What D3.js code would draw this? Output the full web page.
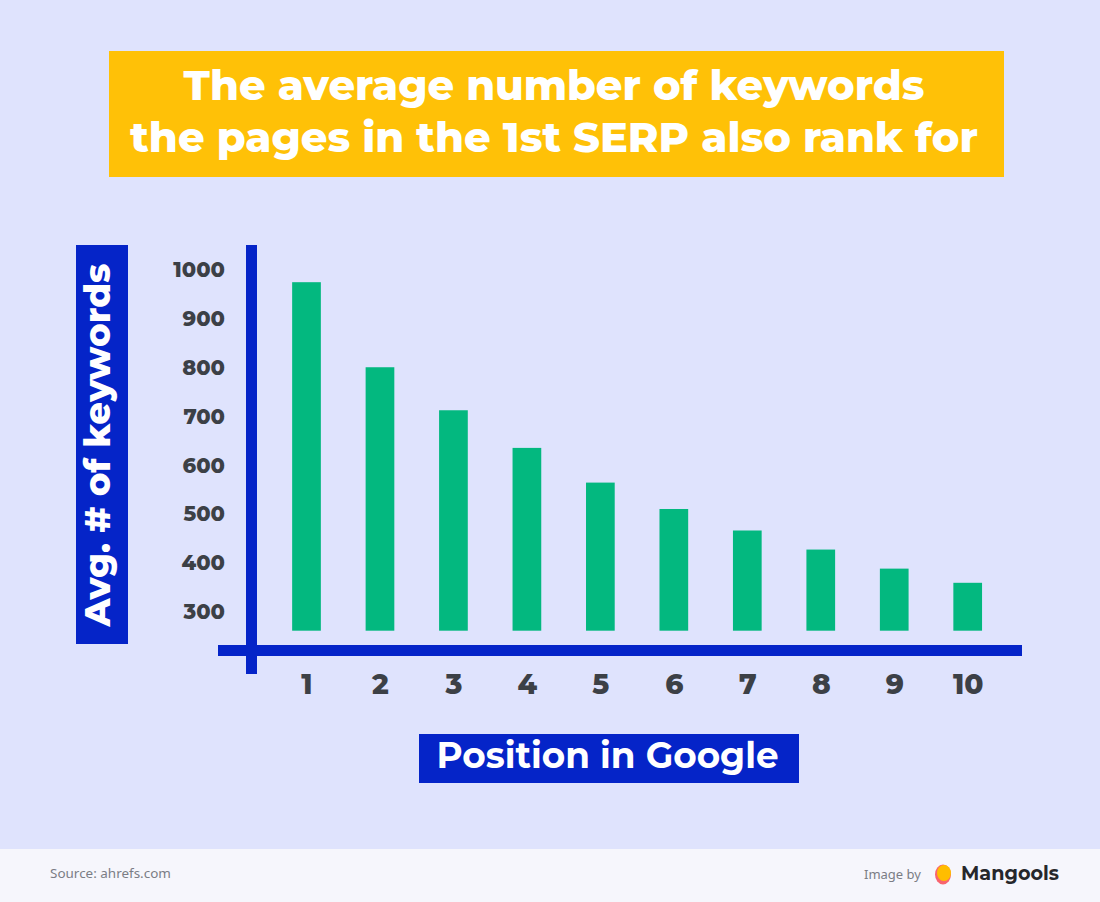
<!DOCTYPE html>
<html>
<head>
<meta charset="utf-8">
<script src="https://cdn.jsdelivr.net/npm/d3@7"></script>
<style>
  html, body { margin: 0; padding: 0; background: #dfe3fd; }
  svg { display: block; }
</style>
</head>
<body>
<svg id="chart" width="1100" height="902"></svg>
<script>
// ---- data ----
const positions = ["1", "2", "3", "4", "5", "6", "7", "8", "9", "10"];
const avgKeywords = [973, 799, 711, 634, 563, 509, 465, 426, 387, 358];
const yTicks = [300, 400, 500, 600, 700, 800, 900, 1000];
const titleLines = ["The average number of keywords", "the pages in the 1st SERP also rank for"];
const yTitle = "Avg. # of keywords";
const xTitle = "Position in Google";
const sourceText = "Source: ahrefs.com";

// ---- style ----
const BG = "#dfe3fd", FOOT = "#f6f6fc", YELLOW = "#ffc107", BLUE = "#0524c8",
      GREEN = "#03b87f", GRAY = "#3c4046";
const HEAVY = "Montserrat, Inter, 'Open Sans', sans-serif";

const svg = d3.select("#chart");
svg.append("rect").attr("width", 1100).attr("height", 902).attr("fill", BG);
svg.append("rect").attr("y", 849).attr("width", 1100).attr("height", 53).attr("fill", FOOT);

// fit text to a target width by adjusting font-size
function fit(sel, target) {
  const n = sel.node();
  const w = n.getComputedTextLength();
  const fs = parseFloat(sel.attr("font-size"));
  sel.attr("font-size", fs * target / w);
}

// title
svg.append("rect").attr("x", 109).attr("y", 51).attr("width", 895).attr("height", 126).attr("fill", YELLOW);
const tl = [ {y: 100, w: 741}, {y: 152, w: 848} ];
titleLines.forEach((t, i) => {
  const s = svg.append("text").text(t)
    .attr("x", 554).attr("y", tl[i].y).attr("text-anchor", "middle")
    .attr("font-family", HEAVY).attr("font-weight", 800).attr("font-size", 40)
    .attr("fill", "#fff");
  fit(s, tl[i].w);
});

// scales
const y = d3.scaleLinear().domain([260, 1000]).range([630.7, 269]);
const x = d3.scalePoint().domain(positions).range([306.5, 967.7]);
const bw = 28.7;

// bars
svg.append("g").selectAll("rect").data(avgKeywords).join("rect")
  .attr("x", (d, i) => x(positions[i]) - bw / 2)
  .attr("y", d => y(d))
  .attr("width", bw)
  .attr("height", d => y(260) - y(d))
  .attr("fill", GREEN);

// axis lines
svg.append("rect").attr("x", 246).attr("y", 245).attr("width", 11).attr("height", 429).attr("fill", BLUE);
svg.append("rect").attr("x", 218).attr("y", 645).attr("width", 804).attr("height", 11).attr("fill", BLUE);

// y axis labels
const yAxis = svg.append("g").attr("transform", "translate(225,0)")
  .call(d3.axisLeft(y).tickValues(yTicks).tickSize(0).tickPadding(0).tickFormat(d3.format("d")));
yAxis.select(".domain").remove();
yAxis.selectAll("text")
  .attr("font-family", HEAVY).attr("font-weight", 800).attr("font-size", 21)
  .attr("fill", GRAY).attr("dy", "0.36em");

// x axis labels
const xAxis = svg.append("g").attr("transform", "translate(0,694)")
  .call(d3.axisBottom(x).tickSize(0).tickPadding(0));
xAxis.select(".domain").remove();
xAxis.selectAll("text")
  .attr("font-family", HEAVY).attr("font-weight", 800).attr("font-size", 28)
  .attr("fill", GRAY).attr("dy", 0).attr("y", 0);

// y title
svg.append("rect").attr("x", 76).attr("y", 245).attr("width", 52).attr("height", 399).attr("fill", BLUE);
const yt = svg.append("text").text(yTitle)
  .attr("transform", "translate(110,445) rotate(-90)")
  .attr("text-anchor", "middle")
  .attr("font-family", HEAVY).attr("font-weight", 800).attr("font-size", 33)
  .attr("fill", "#fff");
fit(yt, 363);

// x title
svg.append("rect").attr("x", 419).attr("y", 734).attr("width", 380).attr("height", 49).attr("fill", BLUE);
const xt = svg.append("text").text(xTitle)
  .attr("x", 607.5).attr("y", 768).attr("text-anchor", "middle")
  .attr("font-family", HEAVY).attr("font-weight", 700).attr("font-size", 32)
  .attr("fill", "#fff");
fit(xt, 342);

// footer
const src = svg.append("text").text(sourceText)
  .attr("x", 50).attr("y", 878)
  .attr("font-family", "'Source Sans Pro', 'Noto Sans', sans-serif").attr("font-size", 15).attr("fill", "#7b7d85");
fit(src, 121);
const ib = svg.append("text").text("Image by")
  .attr("x", 864).attr("y", 879)
  .attr("font-family", "'Source Sans Pro', 'Noto Sans', sans-serif").attr("font-size", 15).attr("fill", "#7b7d85");
fit(ib, 57);
svg.append("ellipse").attr("cx", 943).attr("cy", 874.5).attr("rx", 8).attr("ry", 10).attr("fill", "#f8646f");
svg.append("ellipse").attr("cx", 944).attr("cy", 873).attr("rx", 7).attr("ry", 8).attr("fill", "#ffbd00");
const mg = svg.append("text").text("Mangools")
  .attr("x", 961).attr("y", 880)
  .attr("font-family", HEAVY).attr("font-weight", 700).attr("font-size", 20).attr("fill", "#26272b");
fit(mg, 98);
</script>
</body>
</html>
